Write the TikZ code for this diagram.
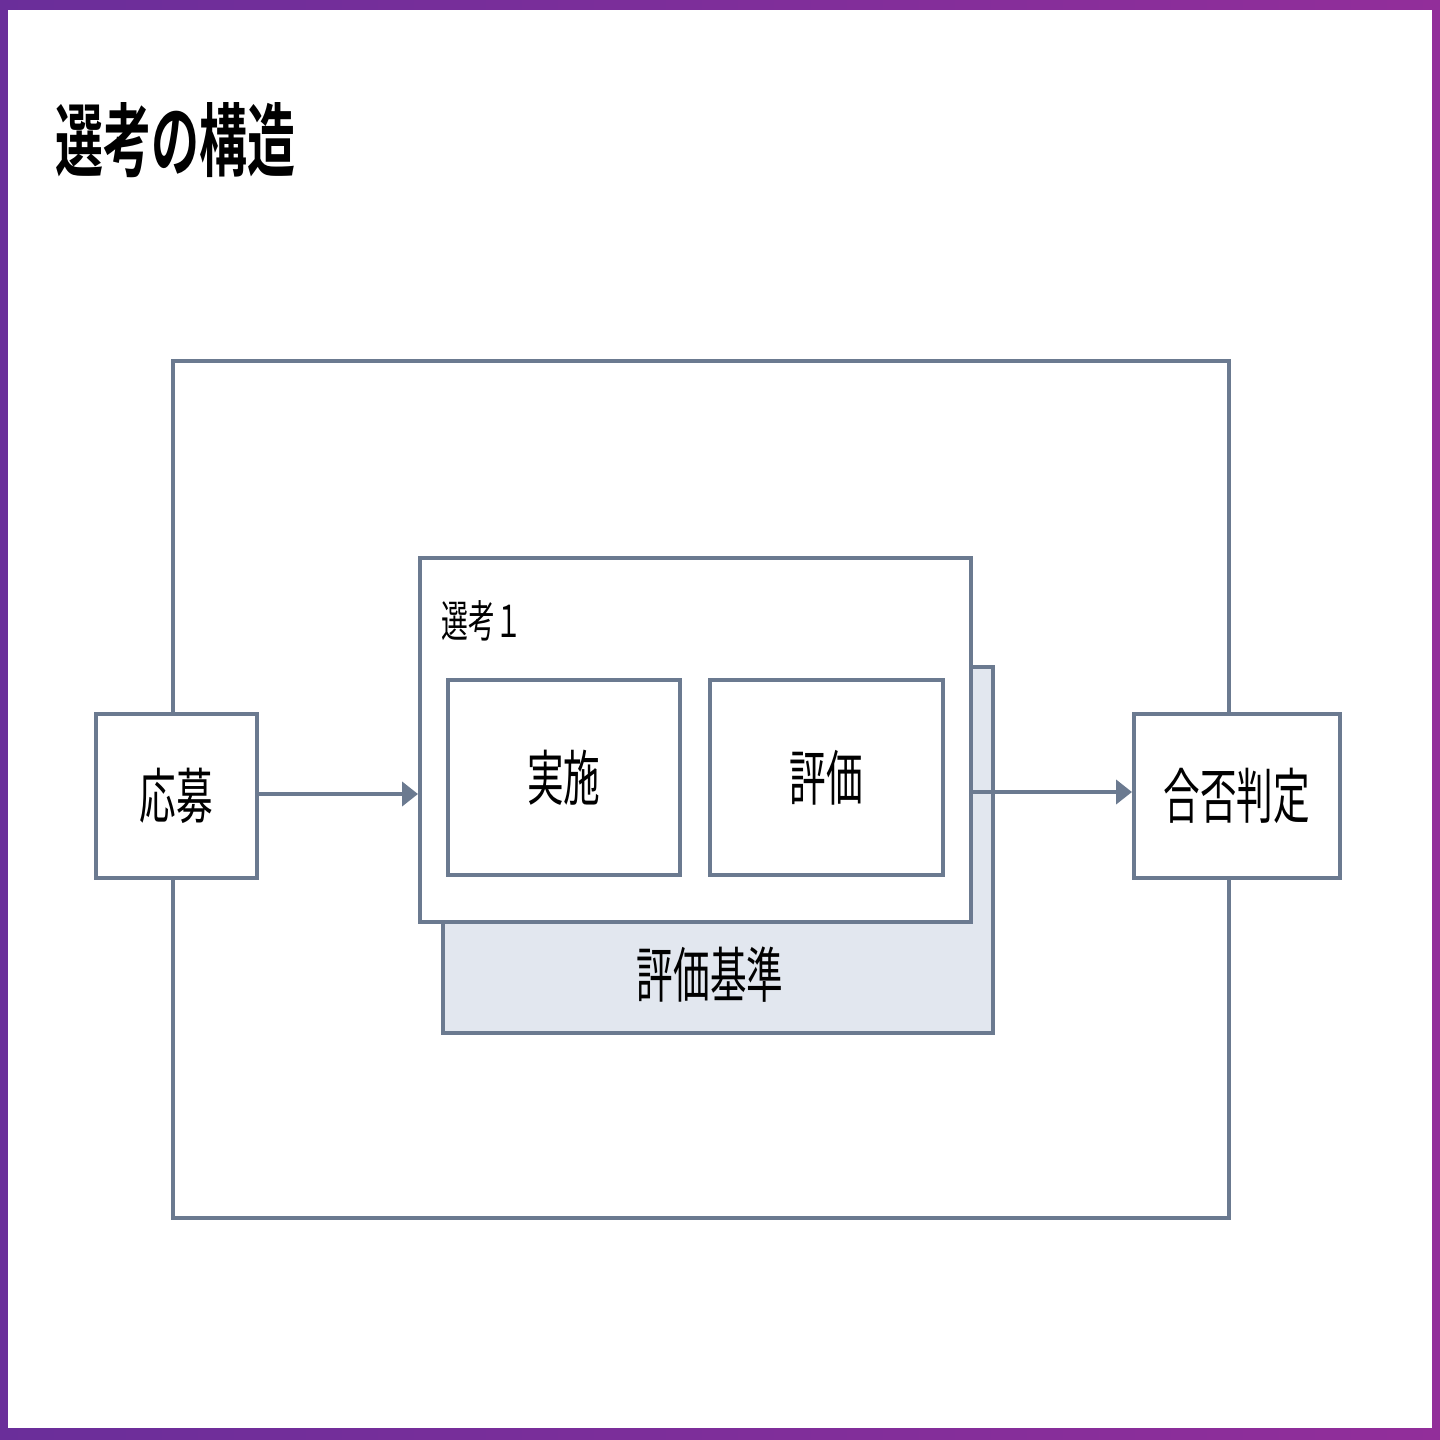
\documentclass[tikz,border=0pt]{standalone}
\usepackage{fontspec}
\newfontfamily\jp[FakeStretch=0.61]{Noto Sans CJK JP}
\newfontfamily\jpb[FakeStretch=0.6]{Noto Sans CJK JP Bold}
\usetikzlibrary{arrows.meta}
\definecolor{ln}{HTML}{6B7A90}
\definecolor{sh}{HTML}{E2E7EF}
\definecolor{pl}{HTML}{6A2E9A}
\definecolor{pr}{HTML}{922E9A}
\tikzset{box/.style={draw=ln,line width=3.5pt,fill=white},
 arr/.style={draw=ln,line width=4pt,-{Triangle[length=16pt,width=24pt]}},
 lbl/.style={font=\jp\fontsize{60}{62}\selectfont}}
\begin{document}
\begin{tikzpicture}[x=1pt,y=-1pt]
\useasboundingbox (0,0) rectangle (1440,1440);
\shade[left color=pl,right color=pr] (0,0) rectangle (1440,1440);
\fill[white] (8,10) rectangle (1432,1428);
\node[anchor=west,font=\jpb\fontsize{80}{82}\selectfont] (title) at (52,140) {選考の構造};
\draw[ln,line width=3.5pt] (173,361) rectangle (1229,1218);
\node[box,fill=sh,minimum width=550pt,minimum height=366pt,anchor=north west] (crit) at (441,665) {};
\node[lbl] (critl) at (710,975) {評価基準};
\node[box,minimum width=551pt,minimum height=364pt,anchor=north west] (sel) at (418,556) {};
\node[anchor=west,font=\jp\fontsize{44}{46}\selectfont] (sell) at (438,621) {選考１};
\node[box,lbl,minimum width=232pt,minimum height=195pt,anchor=north west] (jis) at (446,678) {};
\node[lbl] at (jis) {実施};
\node[box,lbl,minimum width=233pt,minimum height=195pt,anchor=north west] (hyo) at (708,678) {};
\node[lbl] at (hyo) {評価};
\node[box,minimum width=161pt,minimum height=164pt,anchor=north west] (obo) at (94,712) {};
\node[lbl] at (obo) {応募};
\node[box,minimum width=206pt,minimum height=164pt,anchor=north west] (gou) at (1132,712) {};
\node[lbl] at (gou) {合否判定};
\draw[arr] (obo.east |- 0,794) -- (sel.west |- 0,794);
\draw[arr] (sel.east |- 0,792) -- (gou.west |- 0,792);
\end{tikzpicture}
\end{document}
